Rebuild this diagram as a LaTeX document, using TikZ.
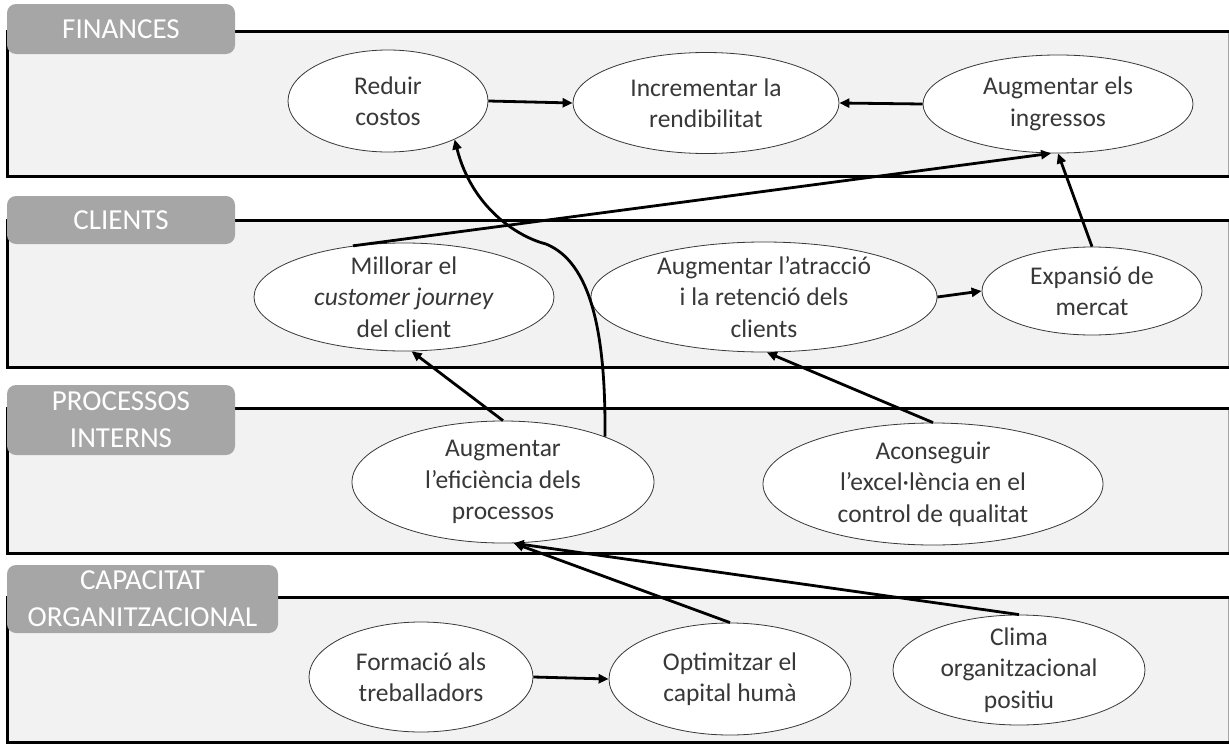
\documentclass[tikz,border=0pt]{standalone}
\usepackage{fontspec}
\setmainfont{Carlito}
\usetikzlibrary{shapes.geometric,arrows.meta}
\definecolor{bandfill}{HTML}{F2F2F2}
\definecolor{tabfill}{HTML}{A6A6A6}
\definecolor{ink}{HTML}{383838}
\begin{document}
\begin{tikzpicture}[x=1pt,y=-1pt,
  oval/.style={ellipse, draw=ink, line width=0.8pt, fill=white, inner sep=0pt},
  lbl/.style={align=center, text=ink, inner sep=0pt, font=\fontsize{25.5}{31.5}\selectfont},
  tabbox/.style={rectangle, fill=tabfill, rounded corners=9pt, inner sep=0pt,
    align=center, text=white, font=\fontsize{29}{37}\selectfont},
  link/.style={line width=2.8pt, -{Triangle[length=10pt,width=9pt]}},
  frame/.style={line width=3pt}]
\useasboundingbox (0,0) rectangle (1229,744);

% perspective bands
\foreach \t/\b in {31/176,220/367,408/553,597/742}{
  \fill[bandfill] (7,\t) rectangle (1228,\b);
  \draw[gray!70, line width=0.8pt] (1228,\t) -- (1228,\b);
  \draw[frame] (1229,\t) -- (7,\t) -- (7,\b) -- (1229,\b);
}

% band titles
\node[tabbox, minimum width=228pt, minimum height=50pt] (t1) at (121,29) {FINANCES};
\node[tabbox, minimum width=228pt, minimum height=48pt] (t2) at (121,220) {CLIENTS};
\node[tabbox, minimum width=228pt, minimum height=70pt] (t3) at (121,420) {PROCESSOS\\INTERNS};
\node[tabbox, minimum width=271pt, minimum height=68pt] (t4) at (142.5,599) {CAPACITAT\\ORGANITZACIONAL};

% objectives
\node[oval, minimum width=200pt, minimum height=102pt] (r) at (388,101) {};
\node[oval, minimum width=266pt, minimum height=101pt] (i) at (706,103) {};
\node[oval, minimum width=270pt, minimum height=98pt] (g) at (1058,104) {};
\node[oval, minimum width=300pt, minimum height=108pt] (m) at (404,297) {};
\node[oval, minimum width=346pt, minimum height=110pt] (a) at (764,297) {};
\node[oval, minimum width=220pt, minimum height=88pt] (x) at (1092,291) {};
\node[oval, minimum width=302pt, minimum height=122pt] (e) at (503,482) {};
\node[oval, minimum width=340pt, minimum height=122pt] (c) at (933,484) {};
\node[oval, minimum width=224pt, minimum height=110pt] (f) at (421,677) {};
\node[oval, minimum width=242pt, minimum height=112pt] (o) at (730,679) {};
\node[oval, minimum width=252pt, minimum height=110pt] (cl) at (1019,670) {};

\node[lbl] (rt) at (r) {Reduir\\costos};
\node[lbl] (it) at (i) {Incrementar la\\rendibilitat};
\node[lbl] (gt) at (g) {Augmentar els\\ingressos};
\node[lbl] (mt) at (m) {Millorar el\\\textit{customer journey}\\del client};
\node[lbl] (at) at (a) {Augmentar l’atracció\\i la retenció dels\\clients};
\node[lbl] (xt) at (x) {Expansió de\\mercat};
\node[lbl] (et) at (e) {Augmentar\\l’eficiència dels\\processos};
\node[lbl] (ct) at (c) {Aconseguir\\l’excel·lència en el\\control de qualitat};
\node[lbl] (ft) at (f) {Formació als\\treballadors};
\node[lbl] (ot) at (o) {Optimitzar el\\capital humà};
\node[lbl] (clt) at (cl) {Clima\\organitzacional\\positiu};

% cause-effect links
\coordinate (kink) at (546,244);
\draw[link] (r.east) -- (i.west);
\draw[link] (g.west) -- (i.east);
\draw[link] (m.135) -- (g.262);
\draw[link] (x.north) -- (g.south);
\draw[link] (a.east) -- (x.west);
\draw[link] (e.24) .. controls (606,330) and (590,262) .. (kink)
  .. controls (518,237) and (472,208) .. (r.-30);
\draw[link] (e.north) -- (m.-82);
\draw[link] (c.north) -- (a.-87);
\draw[link] (o.north) -- (e.-80);
\draw[link] (cl.north) -- (e.-80);
\draw[link] (f.east) -- (o.west);
\end{tikzpicture}
\end{document}
